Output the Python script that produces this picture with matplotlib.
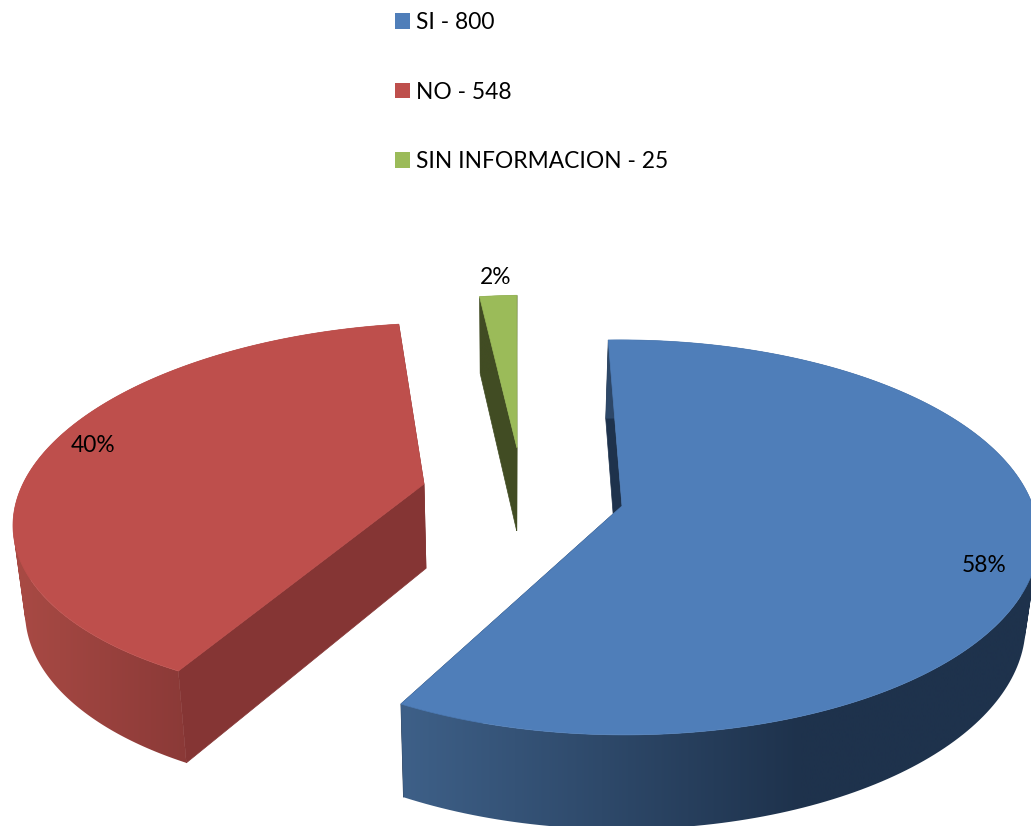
import numpy as np
import matplotlib
matplotlib.use("Agg")
import matplotlib.pyplot as plt
from matplotlib.patches import Patch, PathPatch, Polygon
from matplotlib.path import Path

# Data
categories = ["SI", "NO", "SIN INFORMACION"]
values = [800, 548, 25]

# Styles
top_colors = ["#4F7EB9", "#BE4F4C", "#9BBB59"]
wall_colors = ["#1E324C", "#853534", "#414C23"]
rim_light = ["#3E6088", "#A84A44", "#414C23"]
rim_dark = ["#1E324C", "#8A3937", "#414C23"]
rim_x_range = [(402, 800), (20, 190), (480, 520)]

# Layout of each exploded slice, in image pixels
apex_x = [622, 424, 517]
apex_y = [506, 484, 448]
scale_x = [1.0, 0.976, 0.92]
scale_y = [1.0, 0.959, 0.92]
shear = [0.012, -0.165, -0.07]
perspective = [0.159, 0.144, 0.159]
label_x = [984, 93, 496]
label_y = [565, 446, 278]

START_ANGLE = -1.9  # degrees clockwise from the back of the pie
RADIUS_X = 411
RADIUS_Y = 192.5
FONT = "Lato"
FONT_SIZE = 16.4


def rim_point(theta, i):
    u = np.sin(theta)
    v = np.cos(theta)
    d = 1 + perspective[i] * v
    y = -RADIUS_Y * scale_y[i] * v / d
    x = RADIUS_X * scale_x[i] * u / d + shear[i] * y
    return apex_x[i] + x, apex_y[i] + y


def drop(x, y):
    # lower face of the slab, slightly pulled to the centre
    x = np.asarray(x, dtype=float)
    y = np.asarray(y, dtype=float)
    return x - 0.0245 * (x - 505), y + 77 + 0.04 * (y - 300)


def quad_path(px, py):
    # every quad turns the same way, so the compound path fills without holes
    area = 0.5 * sum(px[k] * py[(k + 1) % 4] - px[(k + 1) % 4] * py[k] for k in range(4))
    pts = list(zip(px, py)) if area > 0 else list(zip(px[::-1], py[::-1]))
    return Path(pts + [pts[0]], closed=True)


def draw_slice(ax, i, a0, a1):
    theta = np.radians(np.linspace(a0, a1, 200))
    rx, ry = rim_point(theta, i)
    bx, by = drop(rx, ry)
    ax0, ay0 = drop(apex_x[i], apex_y[i])

    # straight walls from the centre to both ends of the rim
    for k in (0, -1):
        wall = [(apex_x[i], apex_y[i]), (rx[k], ry[k]), (bx[k], by[k]), (ax0, ay0)]
        ax.add_patch(Polygon(wall, closed=True, fc=wall_colors[i], ec=wall_colors[i], lw=0.5))

    # curved wall, shaded left to right
    quads = [quad_path([rx[k], rx[k + 1], bx[k + 1], bx[k]], [ry[k], ry[k + 1], by[k + 1], by[k]])
             for k in range(len(theta) - 1)]
    clip = PathPatch(Path.make_compound_path(*quads), transform=ax.transData, fc="none", ec="none")
    ax.add_patch(clip)
    xs = np.linspace(min(rx.min(), bx.min()), max(rx.max(), bx.max()), 512)
    x0, x1 = rim_x_range[i]
    t = np.clip((xs - x0) / (x1 - x0), 0, 1)[None, :, None]
    c0 = np.array(matplotlib.colors.to_rgb(rim_light[i]))
    c1 = np.array(matplotlib.colors.to_rgb(rim_dark[i]))
    grad = c0 + (c1 - c0) * t
    im = ax.imshow(grad, extent=(xs[0], xs[-1], max(by.max(), ry.max()), min(by.min(), ry.min())),
                   aspect="auto", interpolation="bilinear", zorder=1)
    im.set_clip_path(clip)

    # top face
    pts = [(apex_x[i], apex_y[i])] + list(zip(rx, ry))
    ax.add_patch(Polygon(pts, closed=True, fc=top_colors[i], ec=top_colors[i], lw=0.5, zorder=2))


def main():
    plt.rcParams["font.family"] = [FONT, "DejaVu Sans"]
    fig = plt.figure(figsize=(10.31, 8.26), dpi=100)
    ax = fig.add_axes([0, 0, 1, 1])
    ax.axis("off")

    total = sum(values)
    angle = START_ANGLE
    for i, v in enumerate(values):
        span = 360 * v / total
        draw_slice(ax, i, angle, angle + span)
        angle += span
        ax.text(label_x[i], label_y[i], f"{v / total * 100:.0f}%", fontsize=FONT_SIZE,
                ha="center", va="center", color="black", zorder=3)

    ax.set_xlim(0, 1031)
    ax.set_ylim(826, 0)

    handles = [Patch(fc=c, ec="none") for c in top_colors]
    labels = [f"{c} - {v}" for c, v in zip(categories, values)]
    ax.legend(handles, labels, loc="upper left", bbox_to_anchor=(395 / 1031, 1 - 12 / 826),
              bbox_transform=ax.transAxes, frameon=False, fontsize=FONT_SIZE,
              handlelength=0.66, handleheight=0.66, handletextpad=0.27,
              labelspacing=2.13, borderpad=0, borderaxespad=0)

    fig.savefig("out.png", dpi=100)


if __name__ == "__main__":
    main()
